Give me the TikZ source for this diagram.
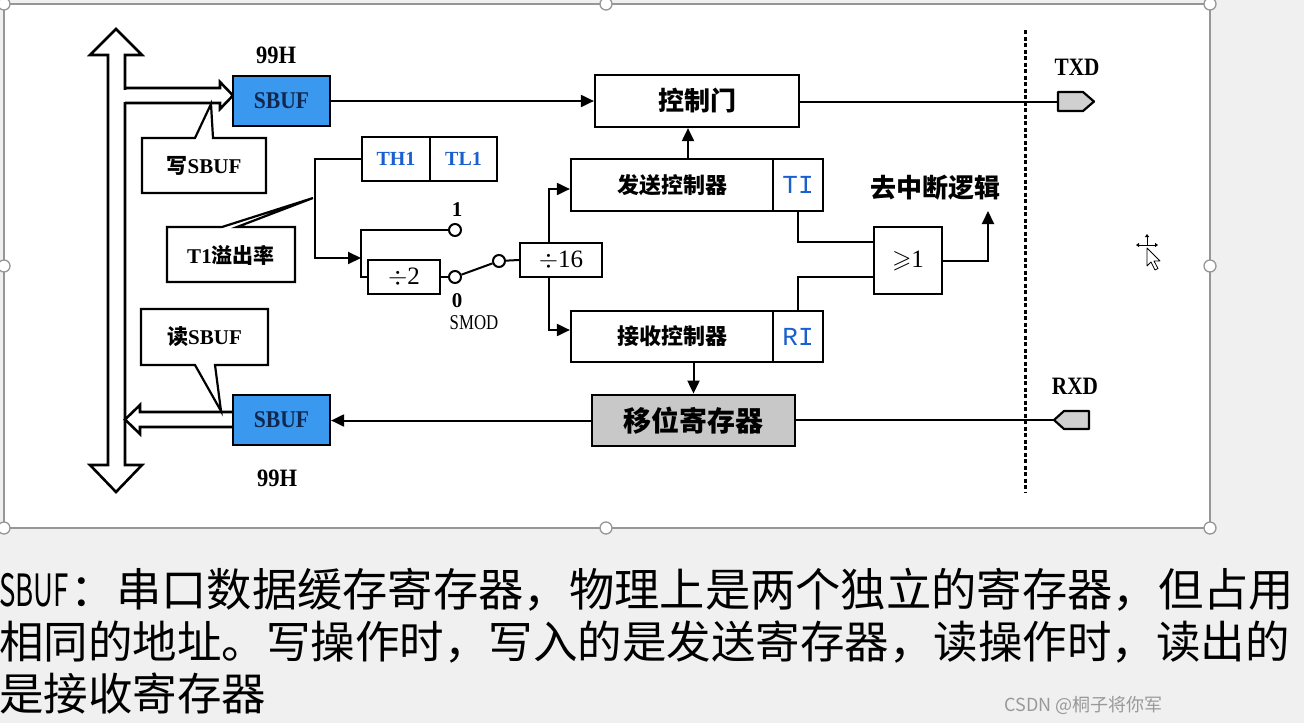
\documentclass[tikz,border=0pt]{standalone}
\usepackage{fontspec}
\usepackage{amssymb}
\usepackage{graphicx}
\setmainfont{Liberation Serif}
\newfontfamily\cjk{Noto Sans CJK SC}
\newfontfamily\monoface{Liberation Mono}
\usetikzlibrary{arrows.meta}
\definecolor{sbufblue}{RGB}{58,152,238}
\definecolor{sbuftext}{RGB}{16,40,80}
\definecolor{regblue}{RGB}{25,95,205}
\definecolor{shiftgray}{RGB}{200,200,200}
\definecolor{padgray}{RGB}{208,208,208}
\definecolor{pagegray}{RGB}{240,240,240}
\definecolor{framegray}{RGB}{150,150,150}
\newcommand{\fs}[1]{\fontsize{#1}{#1}\selectfont}

\begin{document}
\begin{tikzpicture}[x=1pt,y=-1pt,
  wire/.style={line width=2pt},
  flow/.style={wire,-{Triangle[length=13pt,width=12pt]}},
  blk/.style={draw,line width=2.2pt,fill=white,inner sep=0pt},
  handle/.style={circle,draw=framegray,fill=white,line width=1.3pt,minimum size=12pt,inner sep=0pt},
  pin/.style={circle,draw,line width=2pt,fill=white,minimum size=12pt,inner sep=0pt},
  lbl/.style={inner sep=0pt},
  callout/.style={draw,line width=2.2pt,fill=white,line join=miter},
  hollow/.style={draw,line width=2.6pt,fill=white,line join=miter}
]
\useasboundingbox (0,0) rectangle (1304,723);
% page and selection frame
\fill[pagegray] (0,0) rectangle (1304,723);
\fill[white] (4,4) rectangle (1210,528);
\draw[framegray,line width=1.2pt] (4,4) rectangle (1210,528);
\foreach \hx/\hy [count=\i] in {4/4,606/4,1210/4,4/266,1210/266,4/528,606/528,1210/528}
  \node[handle] (h\i) at (\hx,\hy) {};

% data bus (hollow double arrow)
\draw[hollow] (116,29) -- (142,55) -- (125,55) -- (125,465) -- (142,465) -- (116,492)
  -- (90,465) -- (108,465) -- (108,55) -- (90,55) -- cycle;

% write path into the transmit buffer
\fill[white] (123,89.5) rectangle (222,101.5);
\draw[line width=2.6pt,line join=miter] (125,88) -- (220,88) -- (220,82) -- (233,95.5)
  -- (220,109) -- (220,103) -- (125,103);
% read path out of the receive buffer
\fill[white] (127,413.5) rectangle (234,425.5);
\draw[line width=2.6pt,line join=miter] (233,412) -- (140,412) -- (140,405) -- (125,419.5)
  -- (140,434) -- (140,427) -- (233,427);

% buffers
\node[blk,fill=sbufblue,minimum width=97pt,minimum height=50pt] (sbufT) at (281.5,101)
  {\color{sbuftext}\fs{24}\bfseries\scalebox{0.9}[1]{SBUF}};
\node[blk,fill=sbufblue,minimum width=97pt,minimum height=50pt] (sbufR) at (281.5,420)
  {\color{sbuftext}\fs{24}\bfseries\scalebox{0.9}[1]{SBUF}};
\node[lbl] (addrT) at (276,55) {\fs{25}\bfseries\scalebox{0.9}[1]{99H}};
\node[lbl] (addrR) at (277,478) {\fs{25}\bfseries\scalebox{0.9}[1]{99H}};

% callouts
\draw[callout] (142,138) -- (195,138) -- (211,104) -- (213,138) -- (266,138) -- (266,193)
  -- (142,193) -- cycle;
\node[lbl] (wlabel) at (204,166) {{\cjk\bfseries\fs{21}写}{\fs{21}\bfseries SBUF}};
\draw[callout] (141,309) -- (268,309) -- (268,365) -- (215,365) -- (221,411) -- (195,365)
  -- (141,365) -- cycle;
\node[lbl] (rlabel) at (204.5,337) {{\cjk\bfseries\fs{21}读}{\fs{21}\bfseries SBUF}};
\draw[callout] (167,227) -- (222,227) -- (313,198) -- (237,227) -- (295,227) -- (295,282)
  -- (167,282) -- cycle;
\node[lbl] (tlabel) at (231,255) {{\fs{21}\bfseries T1}{\cjk\bfseries\fs{21}溢出率}};

% timer 1 registers
\node[blk,minimum width=68pt,minimum height=44pt] (th1) at (396,159)
  {\color{regblue}\fs{20}\bfseries TH1};
\node[blk,minimum width=67pt,minimum height=44pt] (tl1) at (463.5,159)
  {\color{regblue}\fs{20}\bfseries TL1};

% dividers and SMOD switch
\node[blk,minimum width=72pt,minimum height=34pt] (div2) at (404,277) {\fs{25}$\div$2};
\node[blk,minimum width=82pt,minimum height=34pt] (div16) at (561,260) {\fs{25}$\div$16};
\node[pin] (c1) at (455,230) {};
\node[pin] (c0) at (455,277) {};
\node[pin] (cs) at (499,261) {};
\node[lbl] (one) at (457,210) {\fs{21}\bfseries 1};
\node[lbl] (zero) at (457,301) {\fs{21}\bfseries 0};
\node[lbl] (smod) at (474,323) {\fs{21}\scalebox{0.8}[1]{SMOD}};

\coordinate (jt) at (315,159);
\coordinate (jb) at (315,258);
\coordinate (bk) at (361,258);
\coordinate (bt) at (361,230);
\coordinate (bb) at (361,277);
\draw[flow] (th1.west) -- (jt) -- (jb) -- (bk);
\draw[wire] (c1) -- (bt) -- (bb) -- (div2.west);
\draw[wire] (div2.east) -- (c0);
\draw[wire] (c0) -- (cs);
\draw[wire] (cs) -- (div16.west);

% controllers
\node[blk,minimum width=204pt,minimum height=52pt] (gate) at (697,101) {\cjk\bfseries\fs{26}控制门};
\node[blk,minimum width=202pt,minimum height=52pt] (txctrl) at (672,185) {\cjk\bfseries\fs{22}发送控制器};
\node[blk,minimum width=50pt,minimum height=52pt] (ti) at (798,185) {\color{regblue}\monoface\fs{26}TI};
\node[blk,minimum width=202pt,minimum height=51pt] (rxctrl) at (672,336.5) {\cjk\bfseries\fs{22}接收控制器};
\node[blk,minimum width=50pt,minimum height=51pt] (ri) at (798,336.5) {\color{regblue}\monoface\fs{26}RI};
\node[blk,line width=2.8pt,fill=shiftgray,minimum width=203pt,minimum height=51pt] (shift) at (693.5,420.5)
  {\cjk\bfseries\fs{28}移位寄存器};

\coordinate (up) at (549,189);
\coordinate (dn) at (549,330);
\draw[flow] (div16.north -| up) -- (up) -- (txctrl.west |- up);
\draw[flow] (div16.south -| dn) -- (dn) -- (rxctrl.west |- dn);
\draw[flow] ([xshift=16pt]txctrl.north) -- ([xshift=16pt]txctrl.north |- gate.south);
\draw[flow] (rxctrl.south -| shift.north) -- (shift.north);
\draw[flow] (sbufT.east) -- (gate.west);
\draw[flow] (shift.west) -- (sbufR.east |- shift.west);

% interrupt OR gate
\node[blk,minimum width=68pt,minimum height=67pt] (orgate) at (908,260.5) {\fs{25}$\geqslant$1};
\coordinate (oi1) at (874,242);
\coordinate (oi2) at (874,277);
\coordinate (intr) at (988,211);
\draw[wire] (ti.south) |- (oi1);
\draw[wire] (ri.north) |- (oi2);
\draw[flow] (orgate.east) -| (intr);
\node[lbl] (intlabel) at (935,188) {\cjk\bfseries\fs{26}去中断逻辑};

% chip boundary
\draw[line width=3pt,dash pattern=on 4pt off 2.5pt] (1025,30) -- (1025,492);

% serial pins
\draw[line width=2.2pt,fill=padgray,line join=round] (1058,92) -- (1083,92) -- (1094,101.5)
  -- (1083,111) -- (1058,111) -- cycle;
\draw[line width=2.2pt,fill=padgray,line join=round] (1054,420) -- (1064,411) -- (1089,411)
  -- (1089,429) -- (1064,429) -- cycle;
\coordinate (txdin) at (1058,101.5);
\coordinate (rxdout) at (1054,420);
\node[lbl] (txd) at (1077,67) {\fs{25}\bfseries\scalebox{0.85}[1]{TXD}};
\node[lbl] (rxd) at (1075,386) {\fs{25}\bfseries\scalebox{0.85}[1]{RXD}};
\draw[wire] (gate.east |- txdin) -- (txdin);
\draw[wire] (rxdout) -- (shift.east |- rxdout);

% mouse pointer
\begin{scope}[line width=0.8pt]
  \draw[-{Triangle[length=3pt,width=4pt]}] (1147,245) -- (1147,234);
  \draw[-{Triangle[length=3pt,width=4pt]}] (1147,245) -- (1136,245);
  \draw[-{Triangle[length=3pt,width=4pt]}] (1147,245) -- (1158,245);
  \draw[fill=white,line join=round] (1147,248) -- (1147,266) -- (1151,262) -- (1155,270)
    -- (1158,268.5) -- (1154,261) -- (1160,261) -- cycle;
\end{scope}

% caption
\node[lbl,anchor=west] (cap1) at (-1,590)
  {\cjk\fs{44.5}\scalebox{0.62}[1]{SBUF}\hspace{2pt}{\fs{45.3}：串口数据缓存寄存器，物理上是两个独立的寄存器，但占用}};
\node[lbl,anchor=west] (cap2) at (-1,642)
  {\cjk\fs{44.5}相同的地址。写操作时，写入的是发送寄存器，读操作时，读出的};
\node[lbl,anchor=west] (cap3) at (-1,693)
  {\cjk\fs{44.5}是接收寄存器};
\node[lbl,anchor=east,text=black!40] (mark) at (1163,705) {\cjk\fs{18}CSDN @桐子将你军};
\end{tikzpicture}
\end{document}
